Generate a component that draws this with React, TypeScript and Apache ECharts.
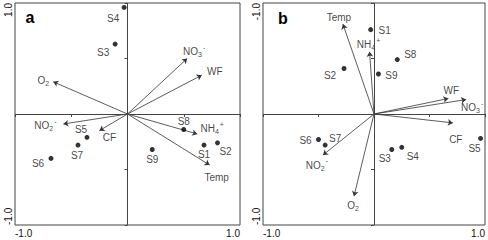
import React, { useEffect, useRef } from "react";
import * as echarts from "echarts";

// ---- data ----
const siteNames = ["S1", "S2", "S3", "S4", "S5", "S6", "S7", "S8", "S9"];
const siteXA = [0.68, 0.8, -0.11, -0.03, -0.36, -0.68, -0.44, 0.5, 0.22];
const siteYA = [-0.28, -0.26, 0.63, 0.96, -0.21, -0.4, -0.28, -0.14, -0.32];
const siteXB = [-0.03, -0.27, 0.16, 0.25, 0.96, -0.5, -0.44, 0.21, 0.04];
const siteYB = [0.76, 0.41, -0.32, -0.3, -0.22, -0.23, -0.28, 0.49, 0.36];

const varNames = ["NO3-", "WF", "O2", "NO2-", "CF", "NH4+", "Temp"];
const varXA = [0.53, 0.66, -0.66, -0.57, -0.25, 0.62, 0.73];
const varYA = [0.5, 0.35, 0.29, -0.09, -0.15, -0.18, -0.46];
const varXB = [0.83, 0.67, -0.18, -0.46, 0.71, -0.04, -0.28];
const varYB = [0.13, 0.14, -0.74, -0.37, -0.08, 0.56, 0.81];

const panelLetters = ["a", "b"];
const xTickLabels = ["-1.0", "1.0"]; // at -1, 1
const yTickLabelsA = ["-1.0", "1.0"]; // at -1, 1
const yTickLabelsB = ["-1.0", "-1.0"]; // at -1, 1 (as printed)

// ---- layout (label offsets in px) ----
const siteOffA = [[0, 9], [8, 9], [-12, 8], [-11, 11], [-6, -8], [-13, 5], [-1, 10], [0, -8], [0, 10]];
const varOffA = [[7, -7], [13, -4], [-10, -1], [-18, 2], [10, 7], [15, -5], [7, 12]];
const siteOffB = [[14, 1], [-14, 7], [-7, 9], [11, 9], [-6, 10], [-13, 1], [10, -7], [13, -5], [13, 1]];
const varOffB = [[6, 8], [3, -8], [-1, 9], [-6, 10], [3, 17], [-1, -7], [-4, -7]];

const FONT = "Liberation Sans, Arial, sans-serif";
const LINE = "#444";
const TXT = "#111";

const richName = (n: string) => {
  switch (n) {
    case "NO3-": return "NO{sub|3}{sup|-}";
    case "NO2-": return "NO{sub|2}{sup|-}";
    case "O2": return "O{sub|2}";
    case "NH4+": return "NH{sub|4}{sup|+}";
    default: return n;
  }
};

const rich = {
  sub: { fontSize: 7, fontFamily: FONT, color: TXT, padding: [6, 0, 0, 0] },
  sup: { fontSize: 7, fontFamily: FONT, color: TXT, padding: [0, 0, 9, 1] },
};

function panel(
  idx: number,
  sx: number[], sy: number[], vx: number[], vy: number[],
  sOff: number[][], vOff: number[][], yLabels: string[]
) {
  const xAxis = {
    gridIndex: idx, type: "value", min: -1, max: 1, interval: 0.5,
    axisLine: { show: false },
    axisTick: { show: true, length: 3, lineStyle: { color: LINE } },
    splitLine: { show: false },
    axisLabel: {
      margin: 3, fontSize: 10, fontFamily: FONT, color: TXT,
      showMinLabel: true, showMaxLabel: true,
      alignMinLabel: "left", alignMaxLabel: "right",
      formatter: (v: number) => (v === -1 ? xTickLabels[0] : v === 1 ? xTickLabels[1] : ""),
    },
  };
  const yAxis = {
    gridIndex: idx, type: "value", min: -1, max: 1, interval: 0.5,
    axisLine: { show: false },
    axisTick: { show: true, length: 3, lineStyle: { color: LINE } },
    splitLine: { show: false },
    axisLabel: {
      margin: 2, fontSize: 10, fontFamily: FONT, color: TXT, rotate: 90,
      showMinLabel: true, showMaxLabel: true,
      alignMinLabel: "left", alignMaxLabel: "right",
      formatter: (v: number) => (v === -1 ? yLabels[0] : v === 1 ? yLabels[1] : ""),
    },
  };
  const series: any[] = [
    {
      type: "lines", coordinateSystem: "cartesian2d", xAxisIndex: idx, yAxisIndex: idx,
      symbol: ["none", "arrow"], symbolSize: 5,
      lineStyle: { color: "#333", width: 0.8, opacity: 1 },
      silent: true,
      data: vx.map((x, i) => ({ coords: [[0, 0], [x, vy[i]]] })),
    },
    {
      type: "scatter", xAxisIndex: idx, yAxisIndex: idx,
      symbol: "circle", symbolSize: 5,
      itemStyle: { color: "#000" },
      label: { show: true, position: "inside", fontSize: 10, fontFamily: FONT, color: TXT },
      data: sx.map((x, i) => ({
        value: [x, sy[i]], name: siteNames[i],
        label: { offset: sOff[i], formatter: siteNames[i] },
      })),
      markLine: {
        silent: true, symbol: "none", animation: false,
        label: { show: false },
        lineStyle: { color: LINE, width: 1, type: "solid" },
        data: [{ xAxis: 0 }, { yAxis: 0 }],
      },
    },
    {
      type: "scatter", xAxisIndex: idx, yAxisIndex: idx,
      symbol: "circle", symbolSize: 1,
      itemStyle: { color: "rgba(0,0,0,0)" },
      label: { show: true, position: "inside", fontSize: 10, fontFamily: FONT, color: TXT, rich },
      data: vx.map((x, i) => ({
        value: [x, vy[i]], name: varNames[i],
        label: { offset: vOff[i], formatter: richName(varNames[i]) },
      })),
    },
  ];
  return { xAxis, yAxis, series };
}

export default function App() {
  const ref = useRef<HTMLDivElement>(null);
  useEffect(() => {
    if (!ref.current) return;
    const chart = echarts.init(ref.current, undefined, { renderer: "svg" });
    const pa = panel(0, siteXA, siteYA, varXA, varYA, siteOffA, varOffA, yTickLabelsA);
    const pb = panel(1, siteXB, siteYB, varXB, varYB, siteOffB, varOffB, yTickLabelsB);
    chart.setOption({
      animation: false,
      backgroundColor: "#fff",
      grid: [
        { left: 15, top: 1, width: 225, height: 224, show: true, borderColor: LINE, borderWidth: 1, backgroundColor: "transparent" },
        { left: 263, top: 1, width: 224, height: 224, show: true, borderColor: LINE, borderWidth: 1, backgroundColor: "transparent" },
      ],
      xAxis: [pa.xAxis, pb.xAxis],
      yAxis: [pa.yAxis, pb.yAxis],
      series: [...pa.series, ...pb.series],
      graphic: [
        { type: "text", x: 30, y: 17, style: { text: panelLetters[0], font: `bold 16px ${FONT}`, fill: "#000", textAlign: "center", textVerticalAlign: "middle" } },
        { type: "text", x: 283, y: 18, style: { text: panelLetters[1], font: `bold 16px ${FONT}`, fill: "#000", textAlign: "center", textVerticalAlign: "middle" } },
      ],
    });
    return () => chart.dispose();
  }, []);
  return <div ref={ref} style={{ position: "fixed", left: 0, top: 0, width: 488, height: 240 }} />;
}
